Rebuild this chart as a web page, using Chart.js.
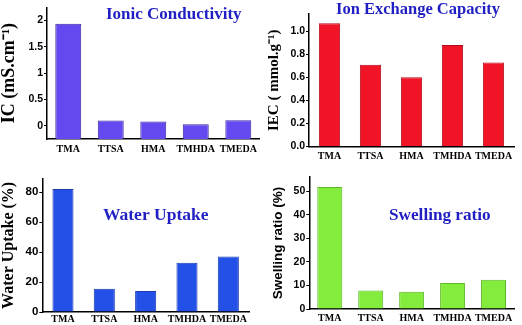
<!DOCTYPE html>
<html>
<head>
<meta charset="utf-8">
<script src="https://cdn.jsdelivr.net/npm/chart.js@4"></script>
<style>
  body { margin: 0; background: #fff; }
  #wrap { position: relative; width: 522px; height: 325px; }
  canvas { position: absolute; }
</style>
</head>
<body>
<div id="wrap">
  <canvas id="ic" style="left:0;top:0" width="261" height="162"></canvas>
  <canvas id="iec" style="left:261px;top:0" width="261" height="162"></canvas>
  <canvas id="uptake" style="left:0;top:162px" width="261" height="163"></canvas>
  <canvas id="swell" style="left:261px;top:162px" width="261" height="163"></canvas>
</div>
<script>
const categories = ['TMA', 'TTSA', 'HMA', 'TMHDA', 'TMEDA'];

const icValues = [1.94, 0.10, 0.08, 0.03, 0.105];
const iecValues = [1.07, 0.71, 0.60, 0.88, 0.73];
const uptakeValues = [82.2, 15.5, 14.0, 32.9, 37.1];
const swellValues = [51.8, 7.8, 7.35, 11.0, 12.4];

const icTicks = [0, 0.5, 1, 1.5, 2];
const iecTicks = [0, 0.2, 0.4, 0.6, 0.8, 1.0];
const uptakeTicks = [0, 20, 40, 60, 80];
const swellTicks = [0, 10, 20, 30, 40, 50];

const SERIF = '"Liberation Serif", "Times New Roman", serif';
const SANS = '"Liberation Sans", Arial, sans-serif';

// draws the blue heading that sits inside each plot
const panelTitle = {
    id: 'panelTitle',
    afterDraw(chart, args, opts) {
        const ctx = chart.ctx;
        ctx.save();
        ctx.font = 'bold ' + opts.size + 'px ' + SERIF;
        ctx.fillStyle = '#1f1fc4';
        ctx.textBaseline = 'alphabetic';
        ctx.textAlign = 'left';
        ctx.fillText(opts.text, opts.x, opts.y);
        ctx.restore();
    }
};

function makePanel(id, p) {
    return new Chart(document.getElementById(id), {
        type: 'bar',
        data: {
            labels: categories,
            datasets: [{
                data: p.values,
                backgroundColor: p.color,
                borderColor: p.edge,
                borderWidth: 1,
                base: p.min,
                barPercentage: p.barPct,
                categoryPercentage: 1,
            }],
        },
        options: {
            responsive: false,
            animation: false,
            layout: { padding: { top: p.padTop, right: p.padRight, left: 0, bottom: 0 } },
            plugins: {
                legend: { display: false },
                tooltip: { enabled: false },
                panelTitle: p.title,
            },
            scales: {
                x: {
                    grid: { display: false, drawTicks: false, tickLength: 0 },
                    border: { display: true, color: '#000', width: 1.5 },
                    ticks: {
                        color: '#000', padding: p.xPad, maxRotation: 0, minRotation: 0, autoSkip: false,
                        font: { family: SERIF, weight: 'bold', size: 10 },
                    },
                    afterFit: (s) => { s.height = p.xHeight; },
                },
                y: {
                    min: p.min,
                    max: p.max,
                    grid: { drawOnChartArea: false, drawTicks: true, tickLength: 3, color: '#000' },
                    border: { display: true, color: '#000', width: 1.5 },
                    ticks: {
                        color: '#000',
                        padding: 1,
                        font: { family: SANS, weight: 'bold', size: p.tickSize },
                        callback: p.fmt,
                    },
                    afterBuildTicks: (s) => { s.ticks = p.ticks.map(v => ({ value: v })); },
                    afterFit: (s) => { s.width = p.yWidth; },
                    title: {
                        display: true,
                        text: p.yTitle,
                        color: '#000',
                        padding: { top: p.titlePad, bottom: 0 },
                        font: { family: p.yFont, weight: 'bold', size: p.yTitleSize, lineHeight: 1 },
                    },
                },
            },
        },
        plugins: [panelTitle],
    });
}

makePanel('ic', {
    values: icValues, ticks: icTicks, min: -0.25, max: 2.25,
    color: '#6449f0', edge: '#3a2aa0', barPct: 0.61,
    padTop: 5, padRight: 1, yWidth: 47, xHeight: 23, xPad: 4, tickSize: 10.5,
    fmt: (v) => String(v),
    yTitle: 'IC (mS.cm\u207B\u00B9)', yFont: SERIF, yTitleSize: 18, titlePad: 0,
    title: { text: 'Ionic Conductivity', x: 106, y: 19, size: 17 },
});

makePanel('iec', {
    values: iecValues, ticks: iecTicks, min: 0, max: 1.15,
    color: '#f01426', edge: '#b00a18', barPct: 0.52,
    padTop: 14, padRight: 8, yWidth: 48, xHeight: 15.5, xPad: 4, tickSize: 10.5,
    fmt: (v) => v.toFixed(1),
    yTitle: 'IEC ( mmol.g\u207B\u00B9)', yFont: SERIF, yTitleSize: 15, titlePad: 6,
    title: { text: 'Ion Exchange Capacity', x: 75, y: 13.5, size: 16.5 },
});

makePanel('uptake', {
    values: uptakeValues, ticks: uptakeTicks, min: 0, max: 89,
    color: '#2350e6', edge: '#1a3cb0', barPct: 0.51,
    padTop: 16.7, padRight: 12, yWidth: 42.3, xHeight: 13, xPad: 1, tickSize: 11.5,
    fmt: (v) => String(v),
    yTitle: 'Water Uptake (%)', yFont: SERIF, yTitleSize: 16, titlePad: 1,
    title: { text: 'Water Uptake', x: 103, y: 58, size: 17.5 },
});

makePanel('swell', {
    values: swellValues, ticks: swellTicks, min: 0, max: 56,
    color: '#84ec3c', edge: '#5cb828', barPct: 0.61,
    padTop: 15, padRight: 8, yWidth: 48.3, xHeight: 16, xPad: 3, tickSize: 10.5,
    fmt: (v) => String(v),
    yTitle: 'Swelling ratio (%)', yFont: SANS, yTitleSize: 13.5, titlePad: 11,
    title: { text: 'Swelling ratio', x: 128, y: 58, size: 17.2 },
});
</script>
</body>
</html>
